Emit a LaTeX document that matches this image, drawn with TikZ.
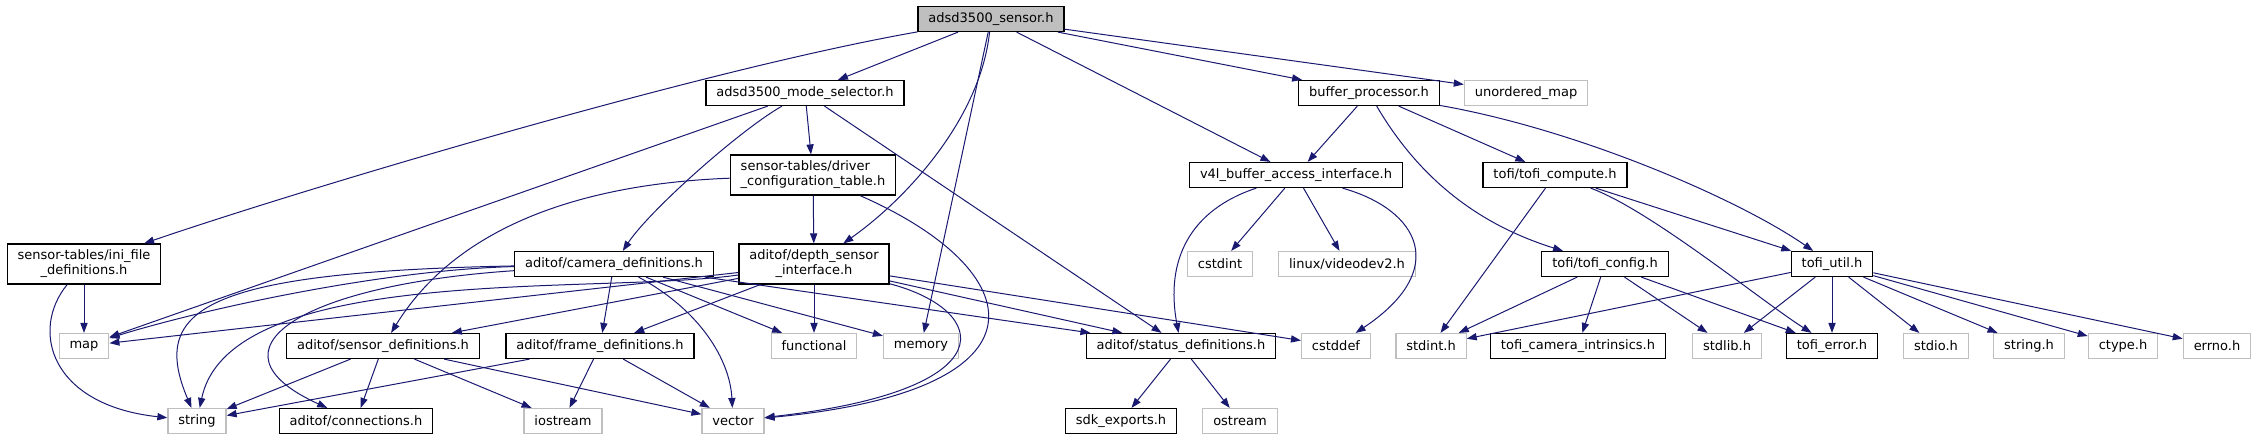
\documentclass[tikz,border=0pt]{standalone}
\usepackage{fontspec}
\setmainfont{DejaVu Sans}
\usetikzlibrary{arrows.meta}
\definecolor{edgeblue}{HTML}{191970}
\definecolor{boxgray}{HTML}{BFBFBF}
\begin{document}
\begin{tikzpicture}[x=0.5pt,y=-0.5pt,
    every node/.style={font=\fontsize{6.5}{7.5}\selectfont, inner xsep=5.2pt, inner ysep=0pt, minimum height=12.5pt},
    hdr/.style={draw=black, line width=0.6pt},
    sys/.style={draw=boxgray, line width=0.6pt},
    root/.style={hdr, fill=boxgray},
    twoline/.style={minimum height=20pt, align=center},
    dep/.style={draw=edgeblue, line width=0.5pt, -{Triangle[length=5pt,width=3.6pt]}}]
  \useasboundingbox (0,0) rectangle (2257,440);
  \node[root] (sensor) at (991,19) {adsd3500\_sensor.h};
  \node[hdr] (modesel) at (805,93) {adsd3500\_mode\_selector.h};
  \node[hdr] (bufproc) at (1369,93) {buffer\_processor.h};
  \node[sys] (umap) at (1526,93) {unordered\_map};
  \node[hdr, twoline, align=left] (drvconf) at (813,175) {sensor-tables/driver\\\_configuration\_table.h};
  \node[hdr] (v4l) at (1296,175) {v4l\_buffer\_access\_interface.h};
  \node[hdr] (compute) at (1555,175) {tofi/tofi\_compute.h};
  \node[hdr, twoline] (inifile) at (84,264) {sensor-tables/ini\_file\\\_definitions.h};
  \node[hdr] (camdefs) at (614,264) {aditof/camera\_definitions.h};
  \node[hdr, twoline] (depthif) at (814,264) {aditof/depth\_sensor\\\_interface.h};
  \node[sys] (cstdint) at (1220,264) {cstdint};
  \node[sys] (videodev) at (1347,264) {linux/videodev2.h};
  \node[hdr] (config) at (1605,264) {tofi/tofi\_config.h};
  \node[hdr] (util) at (1832,264) {tofi\_util.h};
  \node[sys] (map) at (84,346) {map};
  \node[hdr] (sensdefs) at (383,346) {aditof/sensor\_definitions.h};
  \node[hdr] (framedefs) at (600,346) {aditof/frame\_definitions.h};
  \node[sys] (functional) at (814,346) {functional};
  \node[sys] (memory) at (921,346) {memory};
  \node[hdr] (statusdefs) at (1181,346) {aditof/status\_definitions.h};
  \node[sys] (cstddef) at (1336,346) {cstddef};
  \node[sys] (stdinth) at (1431,346) {stdint.h};
  \node[hdr] (intrinsics) at (1578,346) {tofi\_camera\_intrinsics.h};
  \node[sys] (stdlibh) at (1727,346) {stdlib.h};
  \node[hdr] (toferr) at (1832,346) {tofi\_error.h};
  \node[sys] (stdioh) at (1936,346) {stdio.h};
  \node[sys] (stringh) at (2029,346) {string.h};
  \node[sys] (ctypeh) at (2123,346) {ctype.h};
  \node[sys] (errnoh) at (2217,346) {errno.h};
  \node[sys] (string) at (197,421) {string};
  \node[hdr] (connections) at (356,421) {aditof/connections.h};
  \node[sys] (iostream) at (563,421) {iostream};
  \node[sys] (vector) at (733,421) {vector};
  \node[hdr] (sdkexp) at (1121,421) {sdk\_exports.h};
  \node[sys] (ostream) at (1240,421) {ostream};

  \draw[dep] (sensor) .. controls (700,70) and (300,190) .. (inifile);
  \draw[dep] (sensor) -- (modesel);
  \draw[dep] (sensor) .. controls (980,120) and (905,200) .. (depthif);
  \draw[dep] (sensor) -- (memory);
  \draw[dep] (sensor) -- (v4l);
  \draw[dep] (sensor) -- (bufproc);
  \draw[dep] (sensor) -- (umap);

  \draw[dep] (modesel) -- (map);
  \draw[dep] (modesel) .. controls (740,130) and (650,210) .. (camdefs);
  \draw[dep] (modesel) -- (drvconf);
  \draw[dep] (modesel) -- (statusdefs);

  \draw[dep] (drvconf) .. controls (630,182) and (470,205) .. (sensdefs);
  \draw[dep] (drvconf) -- (depthif);
  \draw[dep] (drvconf) .. controls (1030,270) and (1060,390) .. (vector);

  \draw[dep] (inifile) -- (map);
  \draw[dep] (inifile) .. controls (30,330) and (50,405) .. (string);

  \draw[dep] (camdefs) .. controls (380,270) and (200,310) .. (map);
  \draw[dep] (camdefs) .. controls (200,272) and (150,310) .. (string);
  \draw[dep] (camdefs) .. controls (300,285) and (200,350) .. (connections);
  \draw[dep] (camdefs) -- (framedefs);
  \draw[dep] (camdefs) .. controls (700,310) and (730,360) .. (vector);
  \draw[dep] (camdefs) -- (functional);
  \draw[dep] (camdefs) -- (memory);
  \draw[dep] (camdefs) -- (statusdefs);

  \draw[dep] (depthif) -- (map);
  \draw[dep] (depthif) .. controls (600,295) and (230,262) .. (string);
  \draw[dep] (depthif) -- (sensdefs);
  \draw[dep] (depthif) -- (framedefs);
  \draw[dep] (depthif) -- (functional);
  \draw[dep] (depthif) -- (statusdefs);
  \draw[dep] (depthif) -- (cstddef);
  \draw[dep] (depthif) .. controls (990,310) and (1010,390) .. (vector);

  \draw[dep] (sensdefs) -- (string);
  \draw[dep] (sensdefs) -- (connections);
  \draw[dep] (sensdefs) -- (iostream);
  \draw[dep] (sensdefs) -- (vector);

  \draw[dep] (framedefs) -- (string);
  \draw[dep] (framedefs) -- (iostream);
  \draw[dep] (framedefs) -- (vector);

  \draw[dep] (statusdefs) -- (sdkexp);
  \draw[dep] (statusdefs) -- (ostream);

  \draw[dep] (bufproc) -- (v4l);
  \draw[dep] (bufproc) .. controls (1420,180) and (1480,225) .. (config);
  \draw[dep] (bufproc) -- (compute);
  \draw[dep] (bufproc) .. controls (1580,130) and (1740,200) .. (util);

  \draw[dep] (v4l) .. controls (1190,210) and (1165,260) .. (statusdefs);
  \draw[dep] (v4l) -- (cstdint);
  \draw[dep] (v4l) -- (videodev);
  \draw[dep] (v4l) .. controls (1420,210) and (1450,270) .. (cstddef);

  \draw[dep] (compute) -- (stdinth);
  \draw[dep] (compute) .. controls (1650,210) and (1760,300) .. (toferr);
  \draw[dep] (compute) -- (util);

  \draw[dep] (config) -- (stdinth);
  \draw[dep] (config) -- (intrinsics);
  \draw[dep] (config) -- (stdlibh);
  \draw[dep] (config) -- (toferr);

  \draw[dep] (util) -- (stdinth);
  \draw[dep] (util) -- (stdlibh);
  \draw[dep] (util) -- (toferr);
  \draw[dep] (util) -- (stdioh);
  \draw[dep] (util) -- (stringh);
  \draw[dep] (util) -- (ctypeh);
  \draw[dep] (util) -- (errnoh);
\end{tikzpicture}
\end{document}
